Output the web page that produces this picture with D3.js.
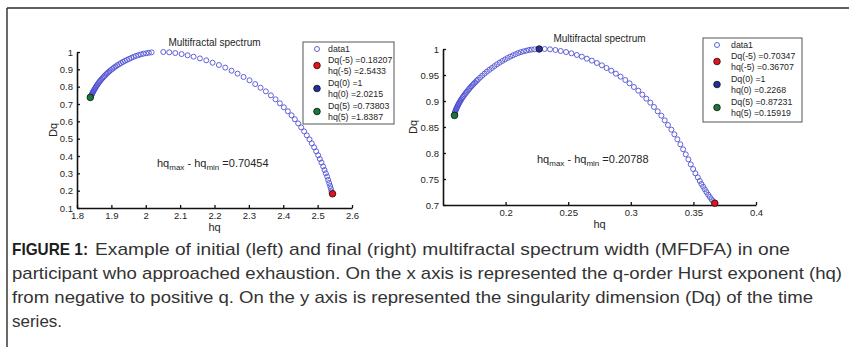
<!DOCTYPE html>
<html><head><meta charset="utf-8">
<script src="https://cdn.jsdelivr.net/npm/d3@7"></script>
<style>
html,body{margin:0;padding:0;background:#fff;}
svg{display:block;}
text{font-family:"Liberation Sans",Arial,sans-serif;}
</style></head>
<body>
<svg id="fig" width="849" height="347"></svg>
<script>
// ---------- DATA ----------
// Left panel (initial): q>0 branch (from q=5 upward) and q<0 branch (toward q=-5)
const leftHqPos = [1.8387,1.8395,1.8403,1.8412,1.8421,1.8431,1.8442,1.8453,1.8464,1.8477,1.8492,1.8508,1.8524,1.8541,1.8559,1.8578,1.8600,1.8623,1.8647,1.8672,1.8700,1.8731,1.8761,1.8793,1.8827,1.8864,1.8902,1.8942,1.8984,1.9029,1.9075,1.9122,1.9172,1.9225,1.9279,1.9335,1.9394,1.9454,1.9516,1.9580,1.9647,1.9715,1.9786,1.9858,1.9933,2.0011,2.0090,2.0171];
const leftDqPos = [0.73803,0.7410,0.7442,0.7477,0.7513,0.7553,0.7595,0.7641,0.7688,0.7738,0.7788,0.7841,0.7896,0.7954,0.8014,0.8076,0.8138,0.8202,0.8268,0.8336,0.8399,0.8466,0.8534,0.8604,0.8674,0.8744,0.8815,0.8888,0.8957,0.9024,0.9093,0.9164,0.9232,0.9295,0.9360,0.9426,0.9486,0.9545,0.9605,0.9662,0.9718,0.9774,0.9819,0.9861,0.9902,0.9927,0.9953,0.9980];
const leftHqNeg = [2.0510,2.0684,2.0859,2.1043,2.1217,2.1391,2.1576,2.1760,2.1944,2.2128,2.2312,2.2496,2.2671,2.2845,2.3019,2.3184,2.3339,2.3494,2.3640,2.3775,2.3901,2.4017,2.4134,2.4240,2.4337,2.4434,2.4521,2.4608,2.4686,2.4763,2.4831,2.4899,2.4957,2.5016,2.5064,2.5112,2.5161,2.5200,2.5238,2.5277,2.5306,2.5335,2.5364,2.5384,2.5403,2.5433];
const leftDqNeg = [1.000,0.998,0.994,0.988,0.981,0.973,0.963,0.952,0.938,0.925,0.910,0.892,0.875,0.856,0.837,0.815,0.794,0.773,0.750,0.727,0.704,0.681,0.658,0.635,0.612,0.588,0.565,0.542,0.519,0.496,0.473,0.450,0.427,0.404,0.383,0.362,0.340,0.319,0.300,0.281,0.262,0.244,0.227,0.212,0.196,0.18207];

// Right panel (final)
const rightHqPos = [0.15919,0.15929,0.15939,0.15949,0.15959,0.15969,0.16002,0.16036,0.16069,0.16102,0.16142,0.16182,0.16222,0.16262,0.16309,0.16356,0.16402,0.16449,0.16520,0.16592,0.16663,0.16743,0.16823,0.16903,0.16992,0.17081,0.17170,0.17268,0.17366,0.17464,0.17571,0.17677,0.17784,0.17958,0.18131,0.18318,0.18505,0.18705,0.18905,0.19106,0.19306,0.19520,0.19733,0.19947,0.20160,0.20374,0.20587,0.20800,0.21014,0.21228,0.21442,0.21655,0.21869,0.22083,0.22296,0.2268];
const rightDqPos = [0.87231,0.87375,0.87519,0.87662,0.87806,0.8795,0.8814,0.8834,0.8853,0.8872,0.8891,0.8911,0.8930,0.8949,0.8968,0.8988,0.9007,0.9026,0.9052,0.9077,0.9103,0.9128,0.9154,0.9179,0.9205,0.9231,0.9256,0.9282,0.9307,0.9333,0.9359,0.9384,0.9410,0.9449,0.9487,0.9526,0.9564,0.9600,0.9635,0.9670,0.9705,0.9737,0.9769,0.9798,0.9827,0.9853,0.9878,0.9901,0.9923,0.9940,0.9955,0.9968,0.9981,0.9988,0.9994,1.0];
const rightHqNeg = [0.2312,0.2355,0.2398,0.2440,0.2483,0.2526,0.2569,0.2609,0.2649,0.2689,0.2729,0.2769,0.2806,0.2844,0.2881,0.2918,0.2956,0.2990,0.3025,0.3060,0.3092,0.3124,0.3156,0.3185,0.3215,0.3244,0.3271,0.3297,0.3324,0.3348,0.3372,0.3396,0.3418,0.3439,0.3460,0.3479,0.3498,0.3516,0.3535,0.3551,0.3564,0.3578,0.3591,0.3604,0.3618,0.3631,0.3645,0.3658,0.36707];
const rightDqNeg = [1.0000,0.9994,0.9981,0.9962,0.9942,0.9917,0.9885,0.9853,0.9814,0.9776,0.9731,0.9686,0.9635,0.9583,0.9526,0.9468,0.9404,0.9340,0.9269,0.9199,0.9122,0.9045,0.8968,0.8885,0.8801,0.8718,0.8628,0.8538,0.8449,0.8359,0.8263,0.8167,0.8071,0.7974,0.7878,0.7782,0.7692,0.7609,0.7532,0.7462,0.7404,0.7353,0.7301,0.7250,0.7199,0.7154,0.7109,0.7071,0.70347];

// Highlighted points: [q=-5, q=0, q=5]
const leftSpecialHq = [2.5433, 2.0215, 1.8387];
const leftSpecialDq = [0.18207, 1, 0.73803];
const leftSpecialShown = [true, false, true];
const rightSpecialHq = [0.36707, 0.2268, 0.15919];
const rightSpecialDq = [0.70347, 1, 0.87231];
const rightSpecialShown = [true, true, true];

const legendLabelsLeft = ["data1", "Dq(-5) =0.18207", "hq(-5) =2.5433", "Dq(0) =1", "hq(0) =2.0215", "Dq(5) =0.73803", "hq(5) =1.8387"];
const legendLabelsRight = ["data1", "Dq(-5) =0.70347", "hq(-5) =0.36707", "Dq(0) =1", "hq(0) =0.2268", "Dq(5) =0.87231", "hq(5) =0.15919"];

const leftXTicks = [1.8,1.9,2,2.1,2.2,2.3,2.4,2.5,2.6];
const leftYTicks = [0.1,0.2,0.3,0.4,0.5,0.6,0.7,0.8,0.9,1];
const rightXTicks = [0.2,0.25,0.3,0.35,0.4];
const rightYTicks = [0.7,0.75,0.8,0.85,0.9,0.95,1];
const leftXDomain = [1.8, 2.6], leftYDomain = [0.1, 1];
const rightXDomain = [0.15, 0.4], rightYDomain = [0.7, 1];

const titleText = "Multifractal spectrum";
const widthLeft = "=0.70454", widthRight = "=0.20788";

const captionBold = "FIGURE 1:";
const captionLines = [
  "Example of initial (left) and final (right) multifractal spectrum width (MFDFA) in one",
  "participant who approached exhaustion. On the x axis is represented the q-order Hurst exponent (hq)",
  "from negative to positive q. On the y axis is represented the singularity dimension (Dq) of the time",
  "series."
];

// ---------- DRAW ----------
const svg = d3.select("#fig");
const specialColors = ["#e3121b", "#232f9c", "#17783a"];
const circleColor = "#5050d2";
const textColor = "#262626";

// frame
svg.append("line").attr("x1",7).attr("x2",849).attr("y1",8).attr("y2",8).attr("stroke","#2a2a2a").attr("stroke-width",1.4);
svg.append("line").attr("x1",7).attr("x2",7).attr("y1",8).attr("y2",347).attr("stroke","#2a2a2a").attr("stroke-width",1.4);

function panel(cfg){
  const x = d3.scaleLinear().domain(cfg.xDomain).range([cfg.x0, cfg.x1]);
  const y = d3.scaleLinear().domain(cfg.yDomain).range([cfg.yB, cfg.yT]);
  const g = svg.append("g");

  const xa = g.append("g").attr("transform",`translate(0,${cfg.yB})`)
    .call(d3.axisBottom(x).tickValues(cfg.xTicks).tickFormat(d=>String(d)).tickSizeInner(-3).tickSizeOuter(0).tickPadding(4));
  const ya = g.append("g").attr("transform",`translate(${cfg.x0},0)`)
    .call(d3.axisLeft(y).tickValues(cfg.yTicks).tickFormat(d=>String(d)).tickSizeInner(-3).tickSizeOuter(0).tickPadding(4));
  [xa, ya].forEach(a=>{
    a.select(".domain").attr("stroke","#111").attr("stroke-width",1.6);
    a.selectAll(".tick line").attr("stroke","#111").attr("stroke-width",1.3);
    a.selectAll(".tick text").attr("fill",textColor).style("font-size","9.5px");
  });
  xa.selectAll(".tick text").attr("dy","0.71em");
  ya.selectAll(".tick text").attr("dy","0.32em");

  // title
  g.append("text").attr("x",(cfg.x0+cfg.x1)/2).attr("y",cfg.titleY).attr("text-anchor","middle")
    .attr("fill",textColor).style("font-size","10px").text(titleText);
  // axis labels
  g.append("text").attr("x",(cfg.x0+cfg.x1)/2).attr("y",cfg.yB+23).attr("text-anchor","middle")
    .attr("fill",textColor).style("font-size","11px").text("hq");
  g.append("text").attr("transform",`translate(${cfg.yLabelX},${(cfg.yT+cfg.yB)/2}) rotate(-90)`).attr("text-anchor","middle")
    .attr("fill",textColor).style("font-size","11px").text("Dq");

  // data1 circles
  const hq = cfg.hqPos.concat(cfg.hqNeg), dq = cfg.dqPos.concat(cfg.dqNeg);
  g.append("g").selectAll("circle").data(hq).join("circle")
    .attr("cx",(d)=>x(d)).attr("cy",(d,i)=>y(dq[i])).attr("r",2.5)
    .attr("fill","none").attr("stroke",circleColor).attr("stroke-width",0.9);

  // special points
  cfg.sHq.forEach((h,i)=>{
    if(!cfg.sShown[i]) return;
    g.append("circle").attr("cx",x(h)).attr("cy",y(cfg.sDq[i])).attr("r",3.3)
      .attr("fill",specialColors[i]).attr("stroke","#111").attr("stroke-width",0.8);
  });

  // width annotation
  const ann = g.append("text").attr("x",cfg.annX).attr("y",cfg.annY).attr("fill",textColor).style("font-size","11px");
  ann.append("tspan").text("hq");
  ann.append("tspan").attr("dy",3).style("font-size","8px").text("max");
  ann.append("tspan").attr("dy",-3).text(" - hq");
  ann.append("tspan").attr("dy",3).style("font-size","8px").text("min");
  ann.append("tspan").attr("dy",-3).text(" " + cfg.annVal);

  // legend
  const L = g.append("g").attr("transform",`translate(${cfg.legX},${cfg.legY})`);
  L.append("rect").attr("width",cfg.legW).attr("height",cfg.legH).attr("fill","#fff").attr("stroke","#555").attr("stroke-width",1);
  const rowsY = [7, 18.4, 28.6, 41.4, 51.6, 64.4, 74.6];
  cfg.legLabels.forEach((t,i)=>{
    L.append("text").attr("x",cfg.legTextX).attr("y",rowsY[i]).attr("dy","0.35em").attr("fill",textColor).style("font-size","8.8px").text(t);
  });
  L.append("circle").attr("cx",14).attr("cy",rowsY[0]).attr("r",2.5).attr("fill","none").attr("stroke",circleColor).attr("stroke-width",0.9);
  [0,1,2].forEach(i=>{
    L.append("circle").attr("cx",14).attr("cy",(rowsY[1+2*i]+rowsY[2+2*i])/2).attr("r",3.3)
      .attr("fill",specialColors[i]).attr("stroke","#111").attr("stroke-width",0.8);
  });
}

panel({xDomain:leftXDomain, yDomain:leftYDomain, x0:77, x1:352, yT:52, yB:208,
  xTicks:leftXTicks, yTicks:leftYTicks, titleY:46, yLabelX:57,
  hqPos:leftHqPos, dqPos:leftDqPos, hqNeg:leftHqNeg, dqNeg:leftDqNeg,
  sHq:leftSpecialHq, sDq:leftSpecialDq, sShown:leftSpecialShown,
  annX:157, annY:167, annVal:widthLeft,
  legX:303, legY:42, legW:91, legH:82, legTextX:25, legLabels:legendLabelsLeft});

panel({xDomain:rightXDomain, yDomain:rightYDomain, x0:443, x1:756, yT:49, yB:205,
  xTicks:rightXTicks, yTicks:rightYTicks, titleY:42, yLabelX:417,
  hqPos:rightHqPos, dqPos:rightDqPos, hqNeg:rightHqNeg, dqNeg:rightDqNeg,
  sHq:rightSpecialHq, sDq:rightSpecialDq, sShown:rightSpecialShown,
  annX:537, annY:163, annVal:widthRight,
  legX:703, legY:38, legW:99, legH:84, legTextX:28, legLabels:legendLabelsRight});

// caption
const capY = [255, 279, 303, 327];
const capW = [695, 830, 801, null];
svg.append("text").attr("x",12).attr("y",capY[0]).attr("fill","#1e1e1e")
  .style("font-size","17px").style("font-weight","bold").attr("textLength",76).attr("lengthAdjust","spacingAndGlyphs").text(captionBold);
captionLines.forEach((t,i)=>{
  const tx = svg.append("text").attr("x", i===0 ? 95 : 12).attr("y",capY[i]).attr("fill","#333")
    .style("font-size","17px").text(t);
  if(capW[i]) tx.attr("textLength",capW[i]).attr("lengthAdjust","spacingAndGlyphs");
});
</script>
</body></html>
